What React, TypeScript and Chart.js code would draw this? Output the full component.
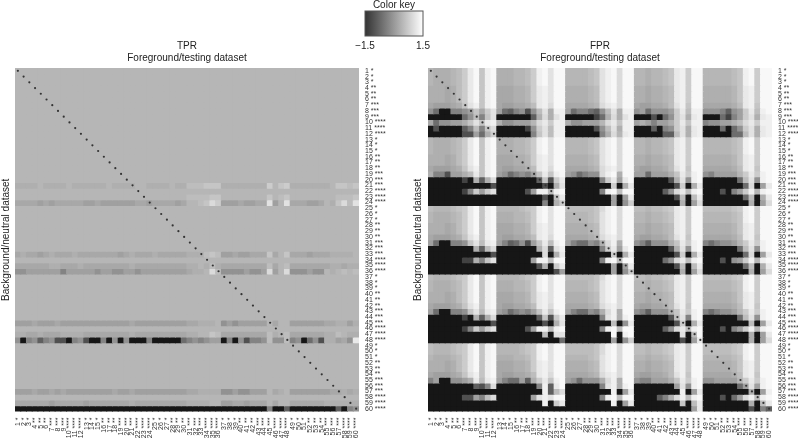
import React, { useEffect, useRef } from "react";
import { Chart, registerables } from "chart.js";

Chart.register(...registerables);
Chart.defaults.font.family = '"Liberation Sans", Arial, sans-serif';

const labels = [
  "1 *","2 *","3 *","4 **","5 **","6 **","7 ***","8 ***","9 ***","10 ****","11 ****","12 ****",
  "13 *","14 *","15 *","16 **","17 **","18 **","19 ***","20 ***","21 ***","22 ****","23 ****","24 ****",
  "25 *","26 *","27 *","28 **","29 **","30 **","31 ***","32 ***","33 ***","34 ****","35 ****","36 ****",
  "37 *","38 *","39 *","40 **","41 **","42 **","43 ***","44 ***","45 ***","46 ****","47 ****","48 ****",
  "49 *","50 *","51 *","52 **","53 **","54 **","55 ***","56 ***","57 ***","58 ****","59 ****","60 ****",
];

// Each character is a base-36 level (0 = value -1.5, z = value 1.5), one per cell.
const blankRow = "pppppppppppp pppppppppppp pppppppppppp pppppppppppp pppppppppppp";
const allDark = "333333333333";

const tprRows = [
  blankRow, blankRow, blankRow, blankRow, blankRow, blankRow,
  blankRow, blankRow, blankRow, blankRow, blankRow, blankRow,
  blankRow, blankRow, blankRow, blankRow, blankRow, blankRow, blankRow, blankRow,
  "oooopoooopoo oooopooooppo ooopooqqqrrr oooooooosprs oooooooprrqr",
  blankRow,
  "pppppppppppp pppppppppppp ppppppqqqqrr pppppppprpqr ppppppppqqqr",
  "nnnnmnmnnnnn mmnmmmmmmnnm nnnnmnppqrus mmmnmmnnvmpv nnnmmnporuqv",
  blankRow, blankRow, blankRow, blankRow, blankRow, blankRow, blankRow, blankRow,
  "nonnmnonnnon nnnnnnmnonnn onnnnnoooqrq mmnmmnnnrnpr nnnmnnnoooop",
  blankRow,
  "nnnnnnoonnno nnnnnnnnonnn nnnnnnoopoqo nnnnnnnnqnpq nnnnnnnoonoo",
  "kkmmmmmmimmm mmkmmkkmmkmm mmmmmmnoopuq kkkkmkkmumpu kkkmkkpopqpq",
  blankRow, blankRow, blankRow, blankRow, blankRow, blankRow, blankRow, blankRow,
  "mmmnmmmnmmmm mmmmmmmmnmmm mmmmmmnnooop kmkmmmmmpnpp mmmmmmnnoomo",
  blankRow,
  "oonnonnnoooo nnnnnnnnonnn nnnnnnoopprq nnnnnnnnqopq nnnnnnooqpoo",
  "k3ikdikbb3ik b33i3k3k333i 33333fikikmm 3i3kbiikqkkq ik3fkboomnkw",
  blankRow, blankRow, blankRow, blankRow, blankRow, blankRow, blankRow, blankRow,
  "mmmnmmnmnmmm mmmmmnmmnmmm mmmmmmnnoooo kkmkkmmmpnop mmmmmmmnnono",
  blankRow,
  "nnnnnnmnnnnn mnnnnnnnonnn nnnnnnoooopp mmnnmnnnpnpp nnnnnnoooooo",
  `${allDark} ${allDark} ${allDark} 33333333i33d 33333333d3ik`,
];

const fprRows = [
  "pooopqswyrxy oooppqsxyvyy ppppqrvxyuyy ppoppqrwxsyy pppppqrxysyy",
  "pooopqswyrxy oooppqsxyvyy ppppqrvxyuyy ppoppqrwxsyy pppppqrxysyy",
  "pooopqswyrxy oooppqsxyvyy ppppqrvxyuyy ppoppqrwxsyy pppppqrxysyy",
  "ooonoqswyrxy nnnoopswxvyy oooopqvxyuyy oonoopqwxsyy oooooprwxsyy",
  "ooonoqswyrxy nnnoopswxvyy oooopqvxyuyy oonoopqwxsyy oooooprwxsyy",
  "ooonoqswyrxy nnnoopswxvyy oooopqvxyuyy oonoopqwxsyy oooooprwxsyy",
  "nmmmnorvxrxy nmmnnoqwxuyy nnnnopuwxuyy nmmnnoqvxryy nnnnnoqwxryy",
  "kf33iikmrnsv mfdikbkqvoxx mfiifdkqvoxx kmfkkkmswqxx kkkidkmswqxy",
  "333333fkqirv 333333douovx 333339fouovx 333b3fksvowx 333f9imsvowx",
  "nfkkmmorvrwx okkmmmpuwsxx okkmmmpuwrxx momimmoswrxx ikkmmoquwsxx",
  "3b3333diqiru 333339ksvqxx 33333bkqvoxx 333d3iksvowx 333f3fksvowx",
  "333333bbmfos 333333irvqxx 333333ioupwx 33333ddqvowx 33333ffqvowx",

  "pooopqswyrxy oooppqsxyvyy ppppqrvxyuyy ppoppqrwxsyy pppppqrxysyy",
  "pooopqswyrxy oooppqsxyvyy ppppqrvxyuyy ppoppqrwxsyy pppppqrxysyy",
  "pooopqswyrxy oooppqsxyvyy ppppqrvxyuyy ppoppqrwxsyy pppppqrxysyy",
  "ooonoqswyrxy nnnoopswxvyy oooopqvxyuyy oonoopqwxsyy oooooprwxsyy",
  "ooonoqswyrxy nnnoopswxvyy oooopqvxyuyy oonoopqwxsyy oooooprwxsyy",
  "nmmmnorvxrxy nmmnnoqwxuyy nnnnopuwxuyy nmmnnoqvxryy nnnnnoqwxryy",
  "oiibmmoqwrxy mkfikimrwrxy mkfikkuxyoyy mmfmmmorwsxy kimmmmpswsxy",
  "33333393odou 3333333drbsw 333333iswmwy 333333bovkxy 333333fqvkxy",
  "33333333333b 33333333b3ov 33333333s3ow 3333333bs3ow 3333333fu3mw",
  "3333339ismsv 33333bmxxqxy 333333ixyqyy 33333dkuwqxy 333b3imsxpxy",
  "333333333333 33333333b3qw 33333333m3mw 3333333bq3qw 3333333fq3ow",
  "333333333333 33333333i3os 33333333m3ks 33333333o3mu 33333333o3mu",

  "qpppqrswyrxy ppppqrsxyvyy qqqqqruxyuyy qqpqqrswxsyy qqqqqrsxysyy",
  "pooopqswyrxy oooppqsxyvyy ppppqrvxyuyy ppoppqrwxsyy pppppqrxysyy",
  "pooopqswyrxy oooppqsxyvyy ppppqrvxyuyy ppoppqrwxsyy pppppqrxysyy",
  "ooonoqswyrxy nnnoopswxvyy oooopqvxyuyy oonoopqwxsyy oooooprwxsyy",
  "ooonoqswyrxy nnnoopswxvyy oooopqvxyuyy oonoopqwxsyy oooooprwxsyy",
  "nmmmnorvxrxy nmmnnoqwxuyy nnnnopuwxuyy nmmnnoqvxryy nnnnnoqwxryy",
  "mf33iikrvqwx midfkbmrwqxy miffkiouxoyy kidkkkorwsxy ifikkmpswsxy",
  "33333333odqu 3333333oudvx 333333iswmwy 333333bovkxy 333333fqvkxy",
  "33333333333b 33333333u3ow 33333333s3ow 3333333bs3ow 3333333fu3mw",
  "33333399oirv 333333mxxqyy 333333ixyqyy 33333fkuwqxy 333b3kmsxpxy",
  "333333333333 3333333bo3sw 33333333m3mw 3333333bq3qw 3333333fq3ow",
  "333333333333 3333333333bm 33333333m3ks 33333333o3mu 33333333o3mu",

  "qpppqrswyrxy ppppqrsxyvyy qqqqqruxyuyy qqpqqrswxsyy qqqqqrsxysyy",
  "pooopqswyrxy oooppqsxyvyy ppppqrvxyuyy ppoppqrwxsyy pppppqrxysyy",
  "pooopqswyrxy oooppqsxyvyy ppppqrvxyuyy ppoppqrwxsyy pppppqrxysyy",
  "ooonoqswyrxy nnnoopswxvyy oooopqvxyuyy oonoopqwxsyy oooooprwxsyy",
  "ooonoqswyrxy nnnoopswxvyy oooopqvxyuyy oonoopqwxsyy oooooprwxsyy",
  "nmmmnorvxrxy nmmnnoqwxuyy nnnnopuwxuyy nmmnnoqvxryy nnnnnoqwxryy",
  "mf33iikrvqwx mkfikimrwrxy miffkiouxoyy kidkkkorwsxy ifikkmpswsxy",
  "33333393odou 3333333drbsw 333333ivxoxy 333333bqvixy 333333fqvkxy",
  "33333333333b 33333333b3ov 33333333q3kw 3333333bs3ow 33333333q3mw",
  "3333339ismsv 33333bmxxqxy 333333ixyqyy 33333dkuwqxy 333b3imsxpxy",
  "333333333333 33333333q3vv 33333333y3xy 33333333v3qy 33333333o3mw",
  "333333333333 33333333333f 33333333m3ks 33333333b3mw 33333333o3mu",

  "qpppqrswyrxy ppppqrsxyvyy qqqqqruxyuyy qqpqqrswxsyy qqqqqrsxysyy",
  "qpppqrswyrxy ppppqrsxyvyy qqqqqruxyuyy qqpqqrswxsyy qqqqqrsxysyy",
  "pooopqswyrxy oooppqsxyvyy ppppqrvxyuyy ppoppqrwxsyy pppppqrxysyy",
  "ooonoqswyrxy nnnoopswxvyy oooopqvxyuyy oonoopqwxsyy oooooprwxsyy",
  "ooonoqswyrxy nnnoopswxvyy oooopqvxyuyy oonoopqwxsyy oooooprwxsyy",
  "nmmmnorvxrxy nmmnnoqwxuyy nnnnopuwxuyy nmmnnoqvxryy nnnnnoqwxryy",
  "im33kkmowqwx miffmdoswrxy mkfkkkouxoyy kiimmmorwsxy kkmmmmpswsxy",
  "33333333dbiu 3333333ixdwy 333333ivxoxy 3333333mvkxy 333333fmvmxy",
  "333333333333 33333333xdqu 33333333x3mw 33333333x3mw 33333333o3mx",
  "333333bbmiqu 333333mvxvyy 333333ixyqyy 3333diouxqxy 333b3fmuxqxy",
  "333333333333 33333333x3sw 33333333x3mw 33333333r3qw 33333333o3qw",
  `${allDark} ${allDark} ${allDark} 3333333333mw 33333333b3id`,
];

const keyRange = [-1.5, 1.5];

const toValues = (row: string) =>
  row.replace(/ /g, "").split("").map((c) => -1.5 + (3 * parseInt(c, 36)) / 35);
const grey = (v: number) => {
  const g = Math.round(((v + 1.5) / 3) * 255);
  return `rgb(${g},${g},${g})`;
};

function heatmapConfig(title: string[], rows: string[], leftW: number, rightW: number) {
  const matrix = rows.map(toValues);
  const cellDatasets: any[] = matrix.map((vals, r) => ({
    type: "bar",
    label: labels[r],
    data: vals.map(() => 1),
    backgroundColor: vals.map(grey),
    borderWidth: 0,
    barPercentage: 1,
    categoryPercentage: 1,
    inflateAmount: 0.5,
    order: 2,
  }));
  const diagonal = {
    type: "scatter",
    label: "diagonal",
    data: labels.map((l, i) => ({ x: l, y: i + 0.5 })),
    showLine: false,
    pointRadius: 1.1,
    pointBackgroundColor: "#333333",
    pointBorderWidth: 0,
    order: 1,
  };
  return {
    type: "bar",
    data: { labels, datasets: [...cellDatasets, diagonal] },
    options: {
      animation: false,
      responsive: false,
      events: [],
      layout: { padding: 0 },
      plugins: {
        legend: { display: false },
        tooltip: { enabled: false },
        title: {
          display: true,
          text: title,
          fullSize: false,
          color: "#222",
          font: { size: 10, weight: "normal", lineHeight: 1.2 },
          padding: { top: 40, bottom: 4 },
        },
      },
      scales: {
        x: {
          type: "category",
          stacked: true,
          grid: { display: false, drawTicks: false },
          border: { display: false },
          afterFit: (s: any) => { s.height = 26.5; },
          ticks: {
            autoSkip: false, minRotation: 90, maxRotation: 90, padding: 6,
            color: "#333", font: { size: 7 },
          },
        },
        y: { type: "linear", stacked: true, min: 0, max: 60, reverse: true, display: false },
        yLabels: {
          type: "category",
          labels,
          position: "right",
          offset: true,
          grid: { display: false, drawTicks: false },
          border: { display: false },
          afterFit: (s: any) => { s.width = rightW; },
          ticks: { autoSkip: false, padding: 6, color: "#333", font: { size: 7 } },
        },
        yTitle: {
          type: "linear",
          position: "left",
          grid: { display: false, drawTicks: false },
          border: { display: false },
          ticks: { display: false },
          afterFit: (s: any) => { s.width = leftW; },
          title: {
            display: true,
            text: "Background/neutral dataset",
            color: "#222",
            font: { size: 10 },
            padding: 0,
          },
        },
      },
    },
  };
}

const framePlugin = {
  id: "frame",
  afterDatasetsDraw(chart: any) {
    const { ctx, chartArea: a } = chart;
    ctx.save();
    ctx.strokeStyle = "#555";
    ctx.lineWidth = 1;
    ctx.strokeRect(a.left, a.top, a.right - a.left, a.bottom - a.top);
    ctx.restore();
  },
};

function keyConfig() {
  return {
    type: "bar",
    plugins: [framePlugin],
    data: {
      labels: ["key"],
      datasets: [
        {
          data: [keyRange],
          barPercentage: 1,
          categoryPercentage: 1,
          borderWidth: 0,
          backgroundColor: (c: any) => {
            const a = c.chart.chartArea;
            if (!a) return "#888";
            const g = c.chart.ctx.createLinearGradient(a.left, 0, a.right, 0);
            g.addColorStop(0, "#333333");
            g.addColorStop(1, "#ffffff");
            return g;
          },
        },
      ],
    },
    options: {
      indexAxis: "y",
      animation: false,
      responsive: false,
      events: [],
      layout: { padding: { left: 25, right: 27 } },
      plugins: {
        legend: { display: false },
        tooltip: { enabled: false },
        title: {
          display: true,
          text: "Color key",
          fullSize: false,
          color: "#222",
          font: { size: 10, weight: "normal", lineHeight: 1.2 },
          padding: { top: 1, bottom: 0 },
        },
      },
      scales: {
        y: { type: "category", display: false },
        x: {
          type: "linear",
          min: keyRange[0],
          max: keyRange[1],
          grid: { display: false, drawTicks: false },
          border: { display: false },
          afterBuildTicks: (s: any) => { s.ticks = keyRange.map((value) => ({ value })); },
          afterFit: (s: any) => { s.height = 18; },
          ticks: {
            padding: 4,
            color: "#222",
            font: { size: 10 },
            autoSkip: false,
            maxRotation: 0,
            callback: (v: any) => (v < 0 ? "\u22121.5" : "1.5"),
          },
        },
      },
    },
  };
}

function Panel({ config, style, width, height }: any) {
  const ref = useRef<HTMLCanvasElement | null>(null);
  useEffect(() => {
    const chart = new Chart(ref.current as any, config() as any);
    return () => chart.destroy();
  }, []);
  return <canvas ref={ref} width={width} height={height} style={{ position: "fixed", ...style }} />;
}

export default function App() {
  return (
    <div>
      <Panel
        width={405}
        height={438}
        style={{ left: 0, top: 0 }}
        config={() => heatmapConfig(["TPR", "Foreground/testing dataset"], tprRows, 15, 46)}
      />
      <Panel
        width={386}
        height={438}
        style={{ left: 412, top: 0 }}
        config={() => heatmapConfig(["FPR", "Foreground/testing dataset"], fprRows, 16, 26)}
      />
      <Panel width={110} height={56} style={{ left: 340, top: -2 }} config={keyConfig} />
    </div>
  );
}
